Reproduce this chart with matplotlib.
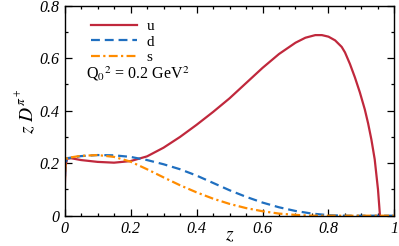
import matplotlib
matplotlib.use("Agg")
import matplotlib.pyplot as plt
from matplotlib.ticker import MultipleLocator, FixedLocator

plt.rcParams['mathtext.fontset'] = 'stix'
plt.rcParams['font.family'] = ['Liberation Serif', 'DejaVu Serif']

z_u = [0, 0.003, 0.008, 0.02, 0.05, 0.1, 0.15, 0.2, 0.25, 0.3, 0.35, 0.4, 0.45, 0.5,
       0.55, 0.6, 0.65, 0.7, 0.73, 0.76, 0.78, 0.8, 0.82, 0.84, 0.85, 0.865, 0.88,
       0.895, 0.91, 0.92, 0.93, 0.94, 0.95, 0.956]
u = [0.08, 0.19, 0.217, 0.219, 0.212, 0.205, 0.202, 0.208, 0.226, 0.259, 0.300, 0.346,
     0.395, 0.447, 0.505, 0.563, 0.616, 0.659, 0.678, 0.688, 0.688, 0.682, 0.668, 0.643,
     0.622, 0.578, 0.527, 0.47, 0.405, 0.352, 0.29, 0.215, 0.1, 0.0]

z_d = [0, 0.003, 0.008, 0.05, 0.1, 0.15, 0.2, 0.25, 0.3, 0.35, 0.4, 0.45, 0.5,
       0.55, 0.6, 0.65, 0.7, 0.75, 0.8, 0.85, 1.0]
d = [0.1, 0.2, 0.219, 0.227, 0.231, 0.23, 0.224, 0.212, 0.196, 0.177, 0.153, 0.125, 0.097,
     0.072, 0.05, 0.032, 0.018, 0.008, 0.002, 0.0, 0.0]

z_s = [0, 0.003, 0.008, 0.05, 0.1, 0.15, 0.2, 0.25, 0.3, 0.35, 0.4, 0.45, 0.5,
       0.55, 0.6, 0.65, 0.7, 0.75, 1.0]
s = [0.1, 0.2, 0.22, 0.228, 0.231, 0.224, 0.206, 0.177, 0.146, 0.116, 0.089, 0.065, 0.045,
     0.029, 0.017, 0.008, 0.003, 0.0, 0.0]

x_ticks = [0, 0.2, 0.4, 0.6, 0.8, 1]
x_labels = ["0", "0.2", "0.4", "0.6", "0.8", "1"]
y_ticks = [0, 0.2, 0.4, 0.6, 0.8]
y_labels = ["0", "0.2", "0.4", "0.6", "0.8"]

fig = plt.figure(figsize=(3.99, 2.46), dpi=100)
ax = fig.add_axes([0.1617, 0.1232, 0.8270, 0.8536])

ax.plot(z_u, u, color='#c0283c', lw=1.6, label='u')
ax.plot(z_d, d, color='#1f6fc0', lw=1.6, ls=(0, (4, 2.2)), label='d')
ax.plot(z_s, s, color='#ff8c00', lw=1.6, ls=(0, (4, 1.5, 1, 1.5)), label='s')

ax.set_xlim(0, 1)
ax.set_ylim(0, 0.8)
ax.xaxis.set_major_locator(FixedLocator(x_ticks))
ax.yaxis.set_major_locator(FixedLocator(y_ticks))
ax.set_xticklabels(x_labels, fontstyle='italic', fontsize=11.5)
ax.set_yticklabels(y_labels, fontstyle='italic', fontsize=11.5)
ax.xaxis.set_minor_locator(MultipleLocator(0.05))
ax.yaxis.set_minor_locator(MultipleLocator(0.1))
ax.tick_params(which='both', direction='in', top=True, right=True, width=0.9)
ax.tick_params(which='major', length=5, pad=4)
ax.tick_params(which='minor', length=2.5)
for sp in ax.spines.values():
    sp.set_linewidth(1.0)

ax.set_xlabel(r'$z$', fontsize=14, labelpad=-7)
ax.set_ylabel(r'$z\ D^{\pi^+}$', fontsize=14, labelpad=1)

leg = ax.legend(loc='upper left', bbox_to_anchor=(0.04, 1.0), frameon=False,
                fontsize=11, handlelength=3.0, handletextpad=0.6, labelspacing=0.12)
ax.text(0.065, 0.655, r'Q$_0$$^2$ = 0.2 GeV$^2$', transform=ax.transAxes, fontsize=11.5)

fig.savefig('out.png', dpi=100)
